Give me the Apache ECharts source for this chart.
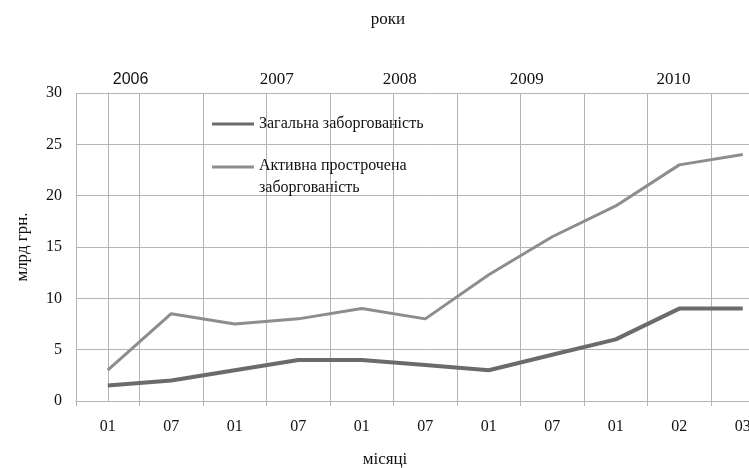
<!DOCTYPE html>
<html>
<head>
<meta charset="utf-8">
<script src="https://cdn.jsdelivr.net/npm/echarts@6/dist/echarts.min.js"></script>
<style>
  html, body { margin: 0; padding: 0; background: #fff; overflow: hidden; }
  /* the drawing is wider than the window: the plot runs off the right edge */
  #chart { width: 776px; height: 468px; }
</style>
</head>
<body>
<div id="chart"></div>
<script>
// Months along the bottom axis
const months = ['01', '07', '01', '07', '01', '07', '01', '07', '01', '02', '03'];

// Debt, bn UAH
const totalDebt = [1.5, 2, 3, 4, 4, 3.5, 3, 4.5, 6, 9, 9];
const overdueDebt = [3, 8.5, 7.5, 8, 9, 8, 12.3, 16, 19, 23, 24];

// Year captions along the top, placed in category units
const years = ['2006', '2007', '2008', '2009', '2010'];
const yearPos = [0.36, 2.66, 4.6, 6.6, 8.91];

const seriesNames = ['Загальна заборгованість', 'Активна прострочена\nзаборгованість'];

const serif = '"Liberation Serif", "Times New Roman", serif';
const sans = '"Liberation Sans", Arial, sans-serif';
const gridColor = '#b4b4b4';

// Legend swatches: a 3px bar inside a 42x24 box; the second one sits at the
// top so it lines up with the first line of its two-line caption.
const iconMid = 'path://M0,0 L0.01,0 Z M0,10.5 L42,10.5 L42,13.5 L0,13.5 Z M0,24 L0.01,24 Z';
const iconTop = 'path://M0,0 L0.01,0 Z M0,0.5 L42,0.5 L42,3.5 L0,3.5 Z M0,24 L0.01,24 Z';

const chart = echarts.init(document.getElementById('chart'));
chart.setOption({
  backgroundColor: '#ffffff',
  animation: false,
  title: [
    { text: 'роки', left: 383, top: 6, textAlign: 'center',
      textStyle: { fontFamily: serif, fontSize: 17, fontWeight: 'normal', color: '#111' } },
    { text: 'місяці', left: 380, top: 446, textAlign: 'center',
      textStyle: { fontFamily: serif, fontSize: 17, fontWeight: 'normal', color: '#111' } }
  ],
  grid: { left: 76, right: 1.5, top: 93, bottom: 67, containLabel: false },
  legend: {
    orient: 'vertical',
    left: 212,
    top: 112,
    padding: 0,
    itemWidth: 42,
    itemHeight: 24,
    itemGap: 19,
    textStyle: { fontFamily: serif, fontSize: 16, color: '#111', lineHeight: 22 },
    data: [
      { name: seriesNames[0], icon: iconMid },
      { name: seriesNames[1], icon: iconTop }
    ]
  },
  xAxis: [
    {
      type: 'category',
      data: months,
      boundaryGap: true,
      axisLine: { show: true, lineStyle: { color: gridColor, width: 1 } },
      axisTick: { show: true, length: 5, lineStyle: { color: gridColor } },
      splitLine: { show: true, lineStyle: { color: gridColor, width: 1 } },
      axisLabel: { margin: 18, fontFamily: serif, fontSize: 16, color: '#111' }
    },
    {
      type: 'value',
      position: 'top',
      min: -0.5,
      max: 10.5,
      axisLine: { show: false },
      axisTick: { show: false },
      splitLine: { show: false },
      axisLabel: {
        customValues: yearPos,
        margin: 5,
        formatter: function (v) {
          const i = yearPos.indexOf(v);
          const y = i >= 0 ? years[i] : '';
          return i === 0 ? '{s|' + y + '}' : '{r|' + y + '}';
        },
        rich: {
          s: { fontFamily: sans, fontSize: 16, color: '#111' },
          r: { fontFamily: serif, fontSize: 17, color: '#111' }
        }
      }
    }
  ],
  yAxis: {
    type: 'value',
    min: 0,
    max: 30,
    interval: 5,
    name: 'млрд грн.',
    nameLocation: 'middle',
    nameRotate: 90,
    nameGap: 45,
    nameTextStyle: { fontFamily: serif, fontSize: 17, color: '#111' },
    axisLine: { show: true, lineStyle: { color: gridColor, width: 1 } },
    axisTick: { show: true, length: 5, lineStyle: { color: gridColor } },
    splitLine: { show: true, lineStyle: { color: gridColor, width: 1 } },
    axisLabel: { margin: 14, fontFamily: serif, fontSize: 16, color: '#111' }
  },
  series: [
    {
      name: seriesNames[0],
      type: 'line',
      data: totalDebt,
      symbol: 'none',
      color: '#6b6b6b',
      lineStyle: { color: '#6b6b6b', width: 4 }
    },
    {
      name: seriesNames[1],
      type: 'line',
      data: overdueDebt,
      symbol: 'none',
      color: '#8d8d8d',
      lineStyle: { color: '#8d8d8d', width: 3 }
    }
  ]
});
</script>
</body>
</html>
